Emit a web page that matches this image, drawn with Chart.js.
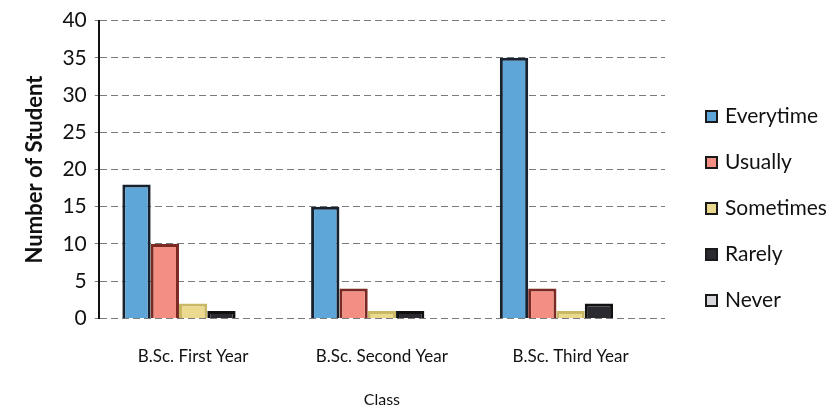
<!DOCTYPE html>
<html>
<head>
<meta charset="utf-8">
<script src="https://cdn.jsdelivr.net/npm/chart.js@4"></script>
<style>
  body { margin: 0; background: #fff; }
  #wrap { position: relative; width: 840px; height: 415px; }
  #legend { position: absolute; left: 705px; top: 102px; font-family: Lato, "Open Sans", sans-serif; font-size: 21px; color: #111; }
  #legend div { height: 46px; display: flex; align-items: flex-start; white-space: nowrap; }
  #legend span.box { display: inline-block; width: 9px; height: 9px; border: 2px solid #1a1a1a; margin-right: 7px; margin-top: 8px; }
</style>
</head>
<body>
<div id="wrap">
  <canvas id="barChartClass" width="840" height="415"></canvas>
  <div id="legend"></div>
</div>
<script>
const classes = ['B.Sc. First Year', 'B.Sc. Second Year', 'B.Sc. Third Year'];
const everytime = [18, 15, 35];
const usually = [10, 4, 4];
const sometimes = [2, 1, 1];
const rarely = [1, 1, 2];
const never = [0, 0, 0];
const yTicks = [0, 5, 10, 15, 20, 25, 30, 35, 40];

const seriesNames = ['Everytime', 'Usually', 'Sometimes', 'Rarely', 'Never'];
const seriesData = [everytime, usually, sometimes, rarely, never];
const fills = ['#5ea6d8', '#f28e82', '#ead98e', '#2a2a30', '#d8d8dc'];
const borders = ['#17222e', '#7a2a22', '#c9b866', '#111111', '#111111'];

const ctx = document.getElementById('barChartClass').getContext('2d');
const barChart = new Chart(ctx, {
    type: 'bar',
    data: {
        labels: classes,
        datasets: seriesNames.map((name, i) => ({
            label: name,
            data: seriesData[i],
            backgroundColor: fills[i],
            borderColor: borders[i],
            borderWidth: 3,
            borderSkipped: 'bottom',
        })),
    },
    options: {
        responsive: false,
        animation: false,
        layout: { padding: { top: 8, right: 175, left: 18, bottom: 2 } },
        categoryPercentage: 0.75,
        barPercentage: 1.0,
        plugins: {
            legend: { display: false },
            tooltip: { enabled: false },
        },
        scales: {
            x: {
                grid: { display: false },
                border: { display: false },
                ticks: { color: '#111', font: { family: 'Lato', size: 17 }, padding: 20 },
                title: { display: true, text: 'Class', color: '#111', font: { family: 'Lato', size: 16 }, padding: { top: 3 } },
            },
            y: {
                min: 0,
                max: 40,
                afterBuildTicks: axis => { axis.ticks = yTicks.map(v => ({ value: v })); },
                grid: { color: '#7a7a7a', lineWidth: 1, drawTicks: true, tickLength: 4 },
                // in v4 border.dash dashes the grid lines, the axis line stays solid
                border: { display: true, color: '#111', width: 2, dash: [7, 4] },
                ticks: { color: '#111', font: { family: 'Lato', size: 21 }, padding: 8 },
                title: { display: true, text: 'Number of Student', color: '#111', font: { family: 'Lato', size: 22, weight: 'bold' }, padding: { bottom: 6 } },
            },
        },
    },
});

const legendEl = document.getElementById('legend');
seriesNames.forEach((name, i) => {
    const row = document.createElement('div');
    row.innerHTML = '<span class="box" style="background:' + fills[i] + '"></span>' + name;
    legendEl.appendChild(row);
});
</script>
</body>
</html>
